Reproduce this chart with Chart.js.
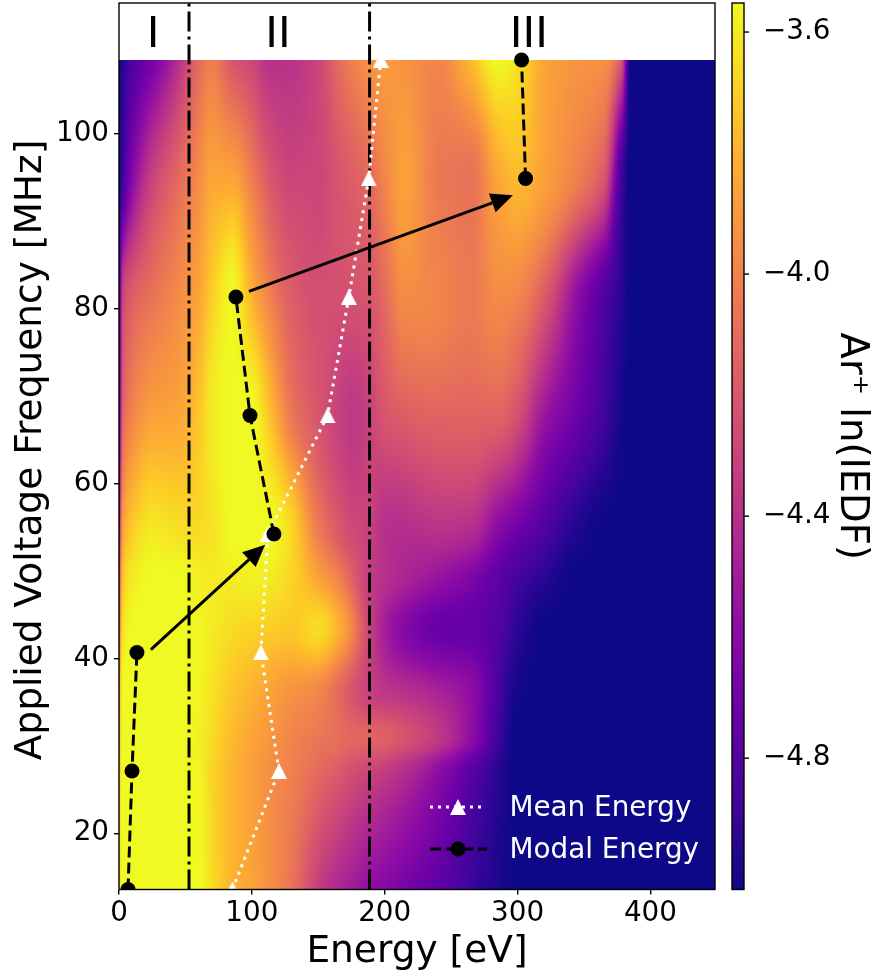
<!DOCTYPE html>
<html lang="en">
<head>
  <meta charset="UTF-8">
  <title>Ar+ IEDF vs applied voltage frequency</title>
  <script src="https://cdn.jsdelivr.net/npm/chart.js"></script>
  <style>
    html, body { margin: 0; padding: 0; background: #fff; }
    canvas { display: block; }
  </style>
</head>
<body>
  <canvas id="iedfChart" width="874" height="976"></canvas>
  <script>
    // Line series
    const frequencies = [13.56, 27.12, 40.68, 54.24, 67.8, 81.36, 94.92, 108.48];
    const meanEnergy = [85.4, 120.4, 106.8, 112, 157, 173, 188, 197];
    const modalEnergy = [6.8, 9.8, 13.5, 116.6, 98.6, 88, 306, 303];
    // modal line is broken after these points, the arrows take over
    const modalBreaks = [2, 5];

    // Heatmap grid, ln(IEDF)
    const gridEnergy = [0, 3, 10, 25, 45, 60, 70, 85, 100, 115, 130, 150, 165, 175, 188, 200, 215, 240, 265, 285, 300, 320, 345, 365, 378, 385, 450];
    const gridFreq = [13.56, 27.12, 31, 36, 43.5, 49, 54.24, 67.8, 81.36, 94.92, 108.48];
    const iedf13 = [-3.63, -3.55, -3.55, -3.55, -3.55, -3.55, -3.65, -3.79, -3.86, -3.95, -4.07, -4.33, -4.45, -4.50, -4.58, -4.62, -4.68, -4.77, -4.89, -4.97, -5.02, -5.02, -5.02, -5.02, -5.02, -5.02, -5.02];
    const iedf27 = [-3.70, -3.55, -3.55, -3.55, -3.55, -3.57, -3.67, -3.79, -3.87, -3.95, -4.01, -4.11, -4.18, -4.24, -4.29, -4.34, -4.41, -4.58, -4.78, -4.94, -5.02, -5.02, -5.02, -5.02, -5.02, -5.02, -5.02];
    const iedf31 = [-3.77, -3.55, -3.55, -3.55, -3.55, -3.58, -3.65, -3.77, -3.85, -3.92, -3.99, -4.05, -4.09, -4.12, -4.14, -4.16, -4.22, -4.35, -4.58, -4.87, -5.02, -5.02, -5.02, -5.02, -5.02, -5.02, -5.02];
    const iedf36 = [-3.85, -3.55, -3.55, -3.55, -3.55, -3.57, -3.63, -3.73, -3.80, -3.87, -3.93, -3.99, -4.11, -4.21, -4.31, -4.36, -4.39, -4.46, -4.58, -4.84, -5.00, -5.02, -5.02, -5.02, -5.02, -5.02, -5.02];
    const iedf43 = [-4.14, -3.63, -3.55, -3.55, -3.55, -3.57, -3.60, -3.65, -3.68, -3.70, -3.72, -3.65, -3.80, -3.98, -4.29, -4.49, -4.62, -4.73, -4.75, -4.80, -4.93, -5.02, -5.02, -5.02, -5.02, -5.02, -5.02];
    const iedf49 = [-4.29, -3.73, -3.60, -3.55, -3.55, -3.58, -3.60, -3.60, -3.58, -3.61, -3.68, -3.85, -3.99, -4.14, -4.33, -4.40, -4.46, -4.55, -4.65, -4.77, -4.86, -4.94, -5.02, -5.02, -5.02, -5.02, -5.02];
    const iedf54 = [-4.50, -3.85, -3.70, -3.60, -3.63, -3.65, -3.63, -3.55, -3.55, -3.55, -3.67, -4.02, -4.18, -4.26, -4.31, -4.40, -4.42, -4.40, -4.43, -4.62, -4.72, -4.83, -4.97, -5.02, -5.02, -5.02, -5.02];
    const iedf68 = [-4.87, -4.14, -3.99, -3.87, -3.85, -3.73, -3.60, -3.55, -3.55, -3.77, -4.05, -4.21, -4.31, -4.36, -4.31, -4.21, -4.17, -4.14, -4.14, -4.14, -4.24, -4.53, -4.72, -4.87, -4.99, -5.02, -5.02];
    const iedf81 = [-4.94, -4.29, -4.17, -4.07, -3.96, -3.85, -3.70, -3.55, -3.80, -4.02, -4.17, -4.24, -4.24, -4.23, -4.21, -4.11, -3.96, -3.99, -4.04, -3.96, -3.99, -4.18, -4.58, -4.82, -4.94, -5.02, -5.02];
    const iedf95 = [-5.02, -4.87, -4.61, -4.31, -4.11, -3.96, -3.85, -3.85, -4.02, -4.21, -4.29, -4.29, -4.21, -4.17, -4.11, -3.99, -3.87, -4.04, -4.07, -3.85, -3.77, -3.87, -4.02, -4.21, -4.87, -5.02, -5.02];
    const iedf108 = [-5.02, -4.94, -4.84, -4.69, -4.40, -4.11, -4.02, -4.21, -4.29, -4.40, -4.39, -4.29, -4.11, -4.02, -3.93, -3.89, -3.93, -3.99, -3.77, -3.55, -3.63, -3.85, -3.92, -3.93, -4.21, -5.02, -5.02];
    const iedfRows = [iedf13, iedf27, iedf31, iedf36, iedf43, iedf49, iedf54, iedf68, iedf81, iedf95, iedf108];

    // Ticks and annotations
    const energyTicks = [0, 100, 200, 300, 400];
    const freqTicks = [20, 40, 60, 80, 100];
    const colorTicks = [-4.8, -4.4, -4.0, -3.6];
    const regionBounds = [52.7, 188.6];
    const regionLabels = ['I', 'II', 'III'];
    const regionLabelEnergy = [25.6, 119.6, 308.5];
    const arrowStart = [[24, 41], [97.8, 82]];
    const arrowEnd = [[110, 53], [296.5, 93]];

    const plasma = [[13, 8, 135], [65, 4, 157], [106, 0, 168], [143, 13, 164], [177, 42, 144], [204, 71, 120], [225, 100, 98], [242, 132, 75], [252, 166, 54], [252, 206, 37], [240, 249, 33]];
    const vmin = -5.017, vmax = -3.552;

    // triangle marker, centred on its box like the original one
    const triangleMark = document.createElement('canvas');
    triangleMark.width = 16;
    triangleMark.height = 16;
    const tctx = triangleMark.getContext('2d');
    tctx.fillStyle = '#fff';
    tctx.beginPath();
    tctx.moveTo(8, 0);
    tctx.lineTo(16, 16);
    tctx.lineTo(0, 16);
    tctx.closePath();
    tctx.fill();

    function plasmaColor(v) {
      const t = Math.max(0, Math.min(1, (v - vmin) / (vmax - vmin))) * 10;
      const i = Math.min(9, Math.floor(t));
      const f = t - i;
      return plasma[i].map((c, k) => c + (plasma[i + 1][k] - c) * f);
    }

    // monotone cubic between grid nodes, keeps the shading free of kinks
    function smoothAt(xs, ys, x) {
      let i = 0;
      while (i < xs.length - 2 && xs[i + 1] < x) i++;
      const h = xs[i + 1] - xs[i];
      const s = (ys[i + 1] - ys[i]) / h;
      const tangent = k => {
        if (k <= 0 || k >= xs.length - 1) return s;
        const a = (ys[k] - ys[k - 1]) / (xs[k] - xs[k - 1]);
        const b = (ys[k + 1] - ys[k]) / (xs[k + 1] - xs[k]);
        return a * b <= 0 ? 0 : 2 * a * b / (a + b);
      };
      const t = (x - xs[i]) / h;
      const m0 = tangent(i) * h, m1 = tangent(i + 1) * h;
      const t2 = t * t, t3 = t2 * t;
      return (2 * t3 - 3 * t2 + 1) * ys[i] + (t3 - 2 * t2 + t) * m0 + (-2 * t3 + 3 * t2) * ys[i + 1] + (t3 - t2) * m1;
    }

    // Draws the heatmap through the x/y scales
    const heatmapPlugin = {
      id: 'heatmap',
      beforeDatasetsDraw(chart) {
        const { ctx, chartArea: a, scales } = chart;
        const left = Math.round(a.left), width = Math.round(a.right) - left;
        const top = Math.round(scales.y.getPixelForValue(gridFreq[gridFreq.length - 1]));
        const height = Math.round(a.bottom) - top;
        const img = ctx.createImageData(width, height);
        for (let px = 0; px < width; px++) {
          const e = scales.x.getValueForPixel(left + px + 0.5);
          const column = iedfRows.map(row => smoothAt(gridEnergy, row, e));
          for (let py = 0; py < height; py++) {
            const fr = scales.y.getValueForPixel(top + py + 0.5);
            const c = plasmaColor(smoothAt(gridFreq, column, fr));
            const n = (py * width + px) * 4;
            img.data[n] = c[0];
            img.data[n + 1] = c[1];
            img.data[n + 2] = c[2];
            img.data[n + 3] = 255;
          }
        }
        ctx.putImageData(img, left, top);

        // colorbar
        const cb = scales.cb;
        for (let py = Math.round(cb.top); py < cb.bottom; py++) {
          const c = plasmaColor(cb.getValueForPixel(py + 0.5));
          ctx.fillStyle = `rgb(${c[0]},${c[1]},${c[2]})`;
          ctx.fillRect(732, py, 12, 1);
        }
      }
    };

    function drawArrow(ctx, x0, y0, x1, y1) {
      const ang = Math.atan2(y1 - y0, x1 - x0);
      const len = 22, half = 10;
      const bx = x1 - Math.cos(ang) * len, by = y1 - Math.sin(ang) * len;
      ctx.strokeStyle = '#000';
      ctx.lineWidth = 3;
      ctx.beginPath();
      ctx.moveTo(x0, y0);
      ctx.lineTo(bx, by);
      ctx.stroke();
      ctx.fillStyle = '#000';
      ctx.beginPath();
      ctx.moveTo(x1, y1);
      ctx.lineTo(bx - Math.sin(ang) * half, by + Math.cos(ang) * half);
      ctx.lineTo(bx + Math.sin(ang) * half, by - Math.cos(ang) * half);
      ctx.closePath();
      ctx.fill();
    }

    // Arrows, region labels, legend, frame
    const overlayPlugin = {
      id: 'overlay',
      afterDatasetsDraw(chart) {
        const { ctx, chartArea: a, scales } = chart;
        ctx.save();

        arrowStart.forEach((s, i) => {
          drawArrow(ctx,
            scales.x.getPixelForValue(s[0]), scales.y.getPixelForValue(s[1]),
            scales.x.getPixelForValue(arrowEnd[i][0]), scales.y.getPixelForValue(arrowEnd[i][1]));
        });

        ctx.fillStyle = '#000';
        ctx.font = '43px "DejaVu Sans"';
        ctx.textAlign = 'center';
        ctx.textBaseline = 'alphabetic';
        regionLabels.forEach((label, i) => {
          ctx.fillText(label, scales.x.getPixelForValue(regionLabelEnergy[i]), 47);
        });

        // y axis title, sits a little below the axis centre
        ctx.save();
        ctx.translate(41, 450);
        ctx.rotate(-Math.PI / 2);
        ctx.font = '37.5px "DejaVu Sans"';
        ctx.fillText('Applied Voltage Frequency [MHz]', 0, 0);
        ctx.restore();

        // legend
        ctx.textAlign = 'left';
        ctx.textBaseline = 'middle';
        ctx.font = '27.8px "DejaVu Sans"';
        ctx.fillStyle = '#fff';
        ctx.fillText('Mean Energy', 509.5, 809);
        ctx.fillText('Modal Energy', 509.5, 851);

        ctx.lineWidth = 3;
        ctx.strokeStyle = '#fff';
        ctx.setLineDash([3, 5]);
        ctx.beginPath();
        ctx.moveTo(430, 807);
        ctx.lineTo(484, 807);
        ctx.stroke();
        ctx.drawImage(triangleMark, 450, 799);

        ctx.strokeStyle = '#000';
        ctx.fillStyle = '#000';
        ctx.setLineDash([11, 5]);
        ctx.beginPath();
        ctx.moveTo(430, 849);
        ctx.lineTo(487, 849);
        ctx.stroke();
        ctx.setLineDash([]);
        ctx.beginPath();
        ctx.arc(458, 849, 7.5, 0, Math.PI * 2);
        ctx.fill();

        // frame, colorbar frame and ticks
        ctx.strokeStyle = '#000';
        ctx.lineWidth = 1.4;
        ctx.strokeRect(a.left, a.top, a.right - a.left, a.bottom - a.top);
        ctx.strokeRect(732, a.top, 12, a.bottom - a.top);
        colorTicks.forEach(v => {
          const y = scales.cb.getPixelForValue(v);
          ctx.beginPath();
          ctx.moveTo(744, y);
          ctx.lineTo(749, y);
          ctx.stroke();
        });
        ctx.restore();
      }
    };

    function xy(xs, ys) {
      return xs.map((x, i) => ({ x: x, y: ys[i] }));
    }

    // fixed axis sizes so the plot area lands where it should
    function fixSize(prop, size) {
      return s => {
        s[prop] = size;
        s.paddingTop = s.paddingBottom = s.paddingLeft = s.paddingRight = 0;
      };
    }

    const boundLine = x => ({
      data: [{ x: x, y: 13.56 }, { x: x, y: 115 }],
      showLine: true,
      borderColor: '#000',
      borderWidth: 3,
      borderDash: [20, 5, 3, 5],
      pointRadius: 0
    });

    new Chart(document.getElementById('iedfChart').getContext('2d'), {
      type: 'scatter',
      data: {
        datasets: [
          {
            label: 'Modal Energy',
            data: xy(modalEnergy, frequencies),
            showLine: true,
            borderColor: '#000',
            backgroundColor: '#000',
            borderWidth: 3,
            borderDash: [11, 5],
            pointRadius: 7.5,
            pointBorderWidth: 0,
            segment: {
              borderColor: c => modalBreaks.includes(c.p0DataIndex) ? 'transparent' : undefined
            }
          },
          {
            label: 'Mean Energy',
            data: xy(meanEnergy, frequencies),
            showLine: true,
            borderColor: '#fff',
            backgroundColor: '#fff',
            borderWidth: 3,
            borderDash: [3, 5],
            pointStyle: triangleMark,
            pointRadius: 8,
            pointBorderWidth: 0
          },
          boundLine(regionBounds[0]),
          boundLine(regionBounds[1])
        ]
      },
      plugins: [heatmapPlugin, overlayPlugin],
      options: {
        responsive: false,
        animation: false,
        events: [],
        layout: { autoPadding: false, padding: { top: 3, left: 0, right: 0, bottom: 0 } },
        plugins: {
          legend: { display: false },
          tooltip: { enabled: false }
        },
        scales: {
          x: {
            type: 'linear',
            min: 0,
            max: 448.6,
            afterFit: fixSize('height', 86.5),
            afterBuildTicks: s => { s.ticks = energyTicks.map(v => ({ value: v })); },
            grid: { drawOnChartArea: false, drawTicks: true, tickLength: 5, color: '#000', lineWidth: 1.4 },
            border: { display: false },
            ticks: { color: '#000', font: { family: 'DejaVu Sans', size: 27.8 }, padding: 3, maxRotation: 0, callback: v => v },
            title: { display: true, text: 'Energy [eV]', color: '#000', font: { family: 'DejaVu Sans', size: 37.5 }, padding: { top: 0, bottom: 1 } }
          },
          y: {
            type: 'linear',
            min: 13.56,
            max: 115,
            afterFit: fixSize('width', 119),
            afterBuildTicks: s => { s.ticks = freqTicks.map(v => ({ value: v })); },
            grid: { drawOnChartArea: false, drawTicks: true, tickLength: 5, color: '#000', lineWidth: 1.4 },
            border: { display: false },
            ticks: { color: '#000', font: { family: 'DejaVu Sans', size: 27.8 }, padding: 5, callback: v => v }
          },
          cb: {
            type: 'linear',
            position: 'right',
            min: vmin,
            max: vmax,
            afterFit: fixSize('width', 159),
            afterBuildTicks: s => { s.ticks = colorTicks.map(v => ({ value: v })); },
            grid: { display: false },
            border: { display: false },
            ticks: {
              color: '#000',
              font: { family: 'DejaVu Sans', size: 27.8 },
              padding: 40,
              callback: v => '\u2212' + Math.abs(v).toFixed(1)
            },
            title: { display: true, text: 'Ar\u207A ln(IEDF)', color: '#000', font: { family: 'DejaVu Sans', size: 38.5 }, padding: { top: 0, bottom: 3 } }
          }
        }
      }
    });
  </script>
</body>
</html>
